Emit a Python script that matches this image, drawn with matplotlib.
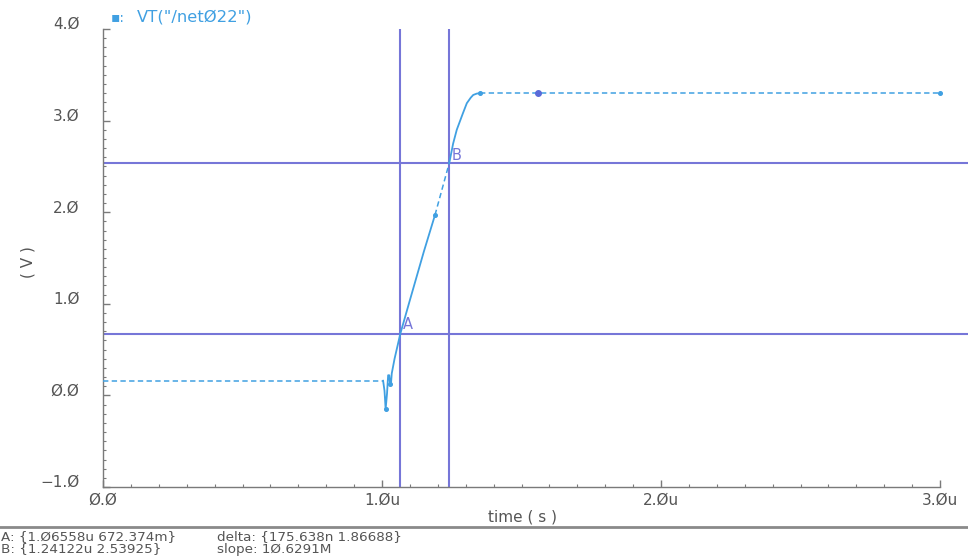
import matplotlib
matplotlib.use("Agg")
import matplotlib.pyplot as plt
from matplotlib.ticker import MultipleLocator, FixedLocator

# ---- data -------------------------------------------------------------
# transient of VT("/net022"), time in microseconds, voltage in volts
t_hold = [0.0, 1.004]
v_hold = [0.16, 0.16]

t_edge = [1.004, 1.009, 1.013, 1.018, 1.022, 1.026, 1.029, 1.032, 1.035,
          1.045, 1.06558, 1.10, 1.15, 1.19]
v_edge = [0.16, 0.05, -0.15, 0.02, 0.22, 0.22, 0.12, 0.12, 0.24,
          0.40, 0.672374, 1.04, 1.57, 1.97]

t_sparse = [1.19, 1.24122]
v_sparse = [1.97, 2.53925]

t_top = [1.24122, 1.255, 1.268, 1.29, 1.304, 1.318, 1.327, 1.340, 1.352]
v_top = [2.53925, 2.75, 2.90, 3.08, 3.19, 3.25, 3.28, 3.295, 3.30]

t_tail = [1.352, 1.558, 3.0]
v_tail = [3.30, 3.30, 3.30]

pt_small_t = [1.013, 1.030, 1.19, 1.352, 3.0]
pt_small_v = [-0.15, 0.12, 1.97, 3.30, 3.30]
pt_big_t = [1.558]
pt_big_v = [3.30]

# cursors
cur_a = (1.06558, 0.672374)
cur_b = (1.24122, 2.53925)

x_major = [0.0, 1.0, 2.0, 3.0]
x_major_labels = ["0.0", "1.0u", "2.0u", "3.0u"]
y_major = [-1.0, 0.0, 1.0, 2.0, 3.0, 4.0]
y_major_labels = ["-1.0", "0.0", "1.0", "2.0", "3.0", "4.0"]

info_a = "A: {1.06558u 672.374m}"
info_b = "B: {1.24122u 2.53925}"
info_delta = "delta: {175.638n 1.86688}"
info_slope = "slope: 10.6291M"
trace_name = 'VT("/net022")'


def slashed(s):
    """Cadence-style slashed zeros."""
    return s.replace("0", "\u00d8").replace("-", "\u2212")


# ---- styling ----------------------------------------------------------
W, H = 968, 560
TRACE = "#40a0e2"
CURSOR = "#7676d8"
AXIS = "#7a7a7a"
TEXT = "#555555"

fig = plt.figure(figsize=(W / 100, H / 100), dpi=100)
fig.patch.set_facecolor("white")

left_px, right_px, top_px, bot_px = 103, 968, 29, 487
x3_px = 940  # pixel position of 3.0u
ax = fig.add_axes([left_px / W, 1 - bot_px / H,
                   (right_px - left_px) / W, (bot_px - top_px) / H])
ax.set_xlim(0, 3.0 * (right_px - left_px) / (x3_px - left_px))
ax.set_ylim(-1.0, 4.0)

for s in ("top", "right"):
    ax.spines[s].set_visible(False)
for s in ("left", "bottom"):
    ax.spines[s].set_color(AXIS)
    ax.spines[s].set_linewidth(1.0)
ax.spines["bottom"].set_bounds(0, 3.0)

ax.xaxis.set_major_locator(FixedLocator(x_major))
ax.xaxis.set_minor_locator(FixedLocator([i / 10 for i in range(31)]))
ax.yaxis.set_major_locator(FixedLocator(y_major))
ax.yaxis.set_minor_locator(MultipleLocator(0.1))
ax.set_xticklabels([slashed(s) for s in x_major_labels])
ax.set_yticklabels([slashed(s) for s in y_major_labels])
ax.tick_params(which="major", direction="in", length=5, width=1.0,
               color=AXIS, labelcolor=TEXT, labelsize=11)
ax.tick_params(which="minor", direction="in", length=2.5, width=0.8,
               color=AXIS)
ax.tick_params(axis="y", pad=17)
ax.tick_params(axis="x", pad=4)
for lab in ax.get_yticklabels():
    lab.set_verticalalignment("baseline")

# cursor lines
ax.axvline(cur_a[0], color=CURSOR, lw=1.5, zorder=2)
ax.axvline(cur_b[0], color=CURSOR, lw=1.5, zorder=2)
ax.axhline(cur_a[1], color=CURSOR, lw=1.5, zorder=2)
ax.axhline(cur_b[1], color=CURSOR, lw=1.5, zorder=2)

# trace
dash = dict(color=TRACE, lw=1.1, linestyle=(0, (3.5, 2.2)), zorder=3)
ax.plot(t_hold, v_hold, **dash)
ax.plot(t_edge, v_edge, color=TRACE, lw=1.3, zorder=3)
ax.plot(t_sparse, v_sparse, **dash)
ax.plot(t_top, v_top, color=TRACE, lw=1.3, zorder=3)
ax.plot(t_tail, v_tail, **dash)
ax.plot(pt_small_t, pt_small_v, "o", color=TRACE, ms=2.6, zorder=4)
ax.plot(pt_big_t, pt_big_v, "o", color="#5a6ad8", ms=4.0, zorder=4)

# cursor labels
ax.annotate("A", cur_a, xytext=(2, 1), textcoords="offset points",
            color=CURSOR, fontsize=10.5, ha="left", va="bottom", zorder=5)
ax.annotate("B", cur_b, xytext=(2, 0), textcoords="offset points",
            color=CURSOR, fontsize=10.5, ha="left", va="bottom", zorder=5)

# axis titles
fig.text(523 / W, 1 - 517 / H, "time ( s )", color=TEXT, fontsize=11,
         ha="center", va="center")
fig.text(28 / W, 1 - 262 / H, "( V )", color=TEXT, fontsize=11,
         ha="center", va="center", rotation=90)

# trace legend
fig.text(111 / W, 1 - 18 / H, "\u25aa:", color=TRACE, fontsize=10,
         ha="left", va="center")
fig.text(137 / W, 1 - 17 / H, slashed(trace_name), color=TRACE,
         fontsize=11.8, ha="left", va="center")

# marker readout under the graph
fig.add_artist(plt.Line2D([0, 1], [1 - 527 / H, 1 - 527 / H],
                          transform=fig.transFigure, color="#8a8a8a", lw=2))
fs_info = 9.7
fig.text(1 / W, 1 - 537 / H, slashed(info_a), color=TEXT, fontsize=fs_info,
         ha="left", va="center")
fig.text(1 / W, 1 - 549 / H, slashed(info_b), color=TEXT, fontsize=fs_info,
         ha="left", va="center")
fig.text(217 / W, 1 - 537 / H, slashed(info_delta), color=TEXT,
         fontsize=fs_info, ha="left", va="center")
fig.text(217 / W, 1 - 549 / H, slashed(info_slope), color=TEXT,
         fontsize=fs_info, ha="left", va="center")

fig.savefig("out.png", dpi=100, facecolor="white")
